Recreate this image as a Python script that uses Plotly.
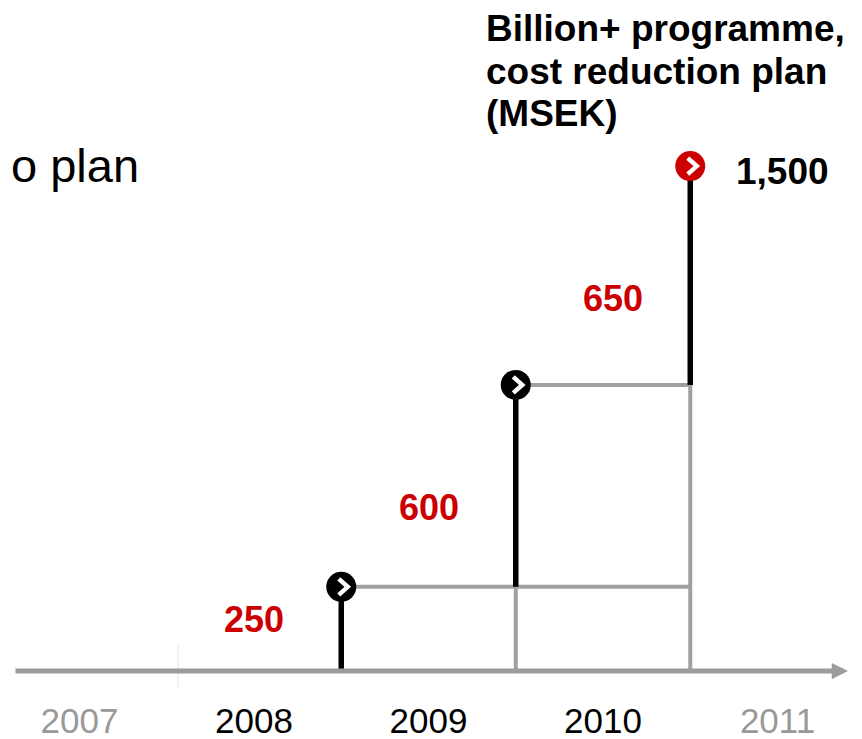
import plotly.graph_objects as go

# ---- data ----
years = [2007, 2008, 2009, 2010, 2011]
year_labels = ["2007", "2008", "2009", "2010", "2011"]
year_colors = ["#999999", "#000000", "#000000", "#000000", "#999999"]
active_years = [2008, 2009, 2010]
increments = [250, 600, 650]
increment_labels = ["250", "600", "650"]
cumulative = [250, 850, 1500]
total_label = "1,500"
title_lines = ["Billion+ programme,", "cost reduction plan", "(MSEK)"]
cut_title = "o plan"

# ---- style / geometry ----
FONT = "Liberation Sans, Arial, Helvetica, sans-serif"
GRAY = "#a0a0a0"
RED = "#cc0000"
OFF = 8                      # page body margin
W, H = 862 - OFF, 739 - OFF  # figure size so the page does not overflow
BASE_WIN = 671               # window pixel of the zero line
PLOT_H = BASE_WIN - OFF
B = H - PLOT_H
PX_PER_YEAR = 174.5
X2008_WIN = 254
PX_PER_UNIT = 0.3366
CHEVRON_PX = [(-2.5, 8), (6.5, 0), (-2.5, -8)]  # chevron shape offsets in pixels (dx, dy up)

def win_x_to_year(px):
    return 2008 + (px - X2008_WIN) / PX_PER_YEAR

def win_x_to_paper(px):
    return (px - OFF) / W

def win_y_to_paper(py):
    return 1 - (py - OFF) / PLOT_H

x_range = [win_x_to_year(OFF), win_x_to_year(OFF + W)]
y_range = [0, PLOT_H / PX_PER_UNIT]

stem_x = [y + 0.5 for y in active_years]
prev = [0] + cumulative[:-1]

fig = go.Figure()

# gray guide lines
for i in range(len(stem_x)):
    if i < len(stem_x) - 1:
        fig.add_trace(go.Scatter(x=[stem_x[i], stem_x[-1]], y=[cumulative[i], cumulative[i]],
                                 mode="lines", line=dict(color=GRAY, width=4),
                                 hoverinfo="skip", showlegend=False, cliponaxis=False))
    if i > 0:
        fig.add_trace(go.Scatter(x=[stem_x[i], stem_x[i]], y=[0, prev[i]],
                                 mode="lines", line=dict(color=GRAY, width=4),
                                 hoverinfo="skip", showlegend=False, cliponaxis=False))

# black stems
for i in range(len(stem_x)):
    fig.add_trace(go.Scatter(x=[stem_x[i], stem_x[i]], y=[prev[i], cumulative[i]],
                             mode="lines", line=dict(color="black", width=5.5),
                             hoverinfo="skip", showlegend=False, cliponaxis=False))

# round markers
marker_colors = ["black"] * (len(stem_x) - 1) + [RED]
fig.add_trace(go.Scatter(x=stem_x, y=cumulative, mode="markers",
                         marker=dict(size=30, color=marker_colors, line=dict(width=0)),
                         hoverinfo="skip", showlegend=False, cliponaxis=False))

# white chevrons inside the markers
for sx, cy in zip(stem_x, cumulative):
    fig.add_trace(go.Scatter(x=[sx + dx / PX_PER_YEAR for dx, dy in CHEVRON_PX],
                             y=[cy + dy / PX_PER_UNIT for dx, dy in CHEVRON_PX],
                             mode="lines", line=dict(color="white", width=4.5),
                             hoverinfo="skip", showlegend=False, cliponaxis=False))

# axis arrow
fig.add_annotation(x=win_x_to_year(848), y=0, ax=win_x_to_year(14), ay=0,
                   xref="x", yref="y", axref="x", ayref="y", text="",
                   showarrow=True, arrowhead=2, arrowsize=0.65, arrowwidth=5,
                   arrowcolor="#9c9c9c")

# faint divider tick
fig.add_shape(type="line", x0=win_x_to_year(178), x1=win_x_to_year(178),
              y0=-17 / PLOT_H, y1=26 / PLOT_H, xref="x", yref="paper",
              line=dict(color="#e2e2e2", width=1))

# increment labels
label_shift_x = [0, 0, 10]
label_shift_y = [9, -22, -23]
for i in range(len(active_years)):
    fig.add_annotation(x=active_years[i], y=(prev[i] + cumulative[i]) / 2,
                       xref="x", yref="y", text="<b>%s</b>" % increment_labels[i],
                       showarrow=False, xanchor="center", yanchor="middle",
                       xshift=label_shift_x[i], yshift=label_shift_y[i],
                       font=dict(family=FONT, size=36, color=RED))

# total label
fig.add_annotation(x=stem_x[-1], y=cumulative[-1], xref="x", yref="y",
                   text="<b>%s</b>" % total_label, showarrow=False,
                   xanchor="left", yanchor="middle", xshift=44, yshift=-5,
                   font=dict(family=FONT, size=37, color="black"))

# chart heading, one annotation per line for tight line spacing
title_centers_win = [28, 71, 113]
for line, cy in zip(title_lines, title_centers_win):
    fig.add_annotation(x=win_x_to_paper(484), y=win_y_to_paper(cy), xref="paper", yref="paper",
                       text="<b>%s</b>" % line, showarrow=False,
                       xanchor="left", yanchor="middle", align="left",
                       font=dict(family=FONT, size=37, color="black"))

# cut-off slide title
fig.add_annotation(x=win_x_to_paper(141), y=win_y_to_paper(165), xref="paper", yref="paper",
                   text=cut_title, showarrow=False, xanchor="right", yanchor="middle",
                   font=dict(family=FONT, size=47, color="black"))

tick_text = ['<span style="color:%s">%s</span>' % (c, t) for c, t in zip(year_colors, year_labels)]

fig.update_layout(
    width=W, height=H,
    margin=dict(l=0, r=0, t=0, b=B, autoexpand=False),
    paper_bgcolor="white", plot_bgcolor="white",
    xaxis=dict(range=x_range, tickvals=years, ticktext=tick_text, showgrid=False,
               zeroline=False, showline=False, ticks="", ticklabelstandoff=26,
               automargin=False,
               tickfont=dict(family=FONT, size=35, color="black"), fixedrange=True),
    yaxis=dict(range=y_range, visible=False, showgrid=False, zeroline=False,
               automargin=False, fixedrange=True),
)

fig.write_html("out.html")
